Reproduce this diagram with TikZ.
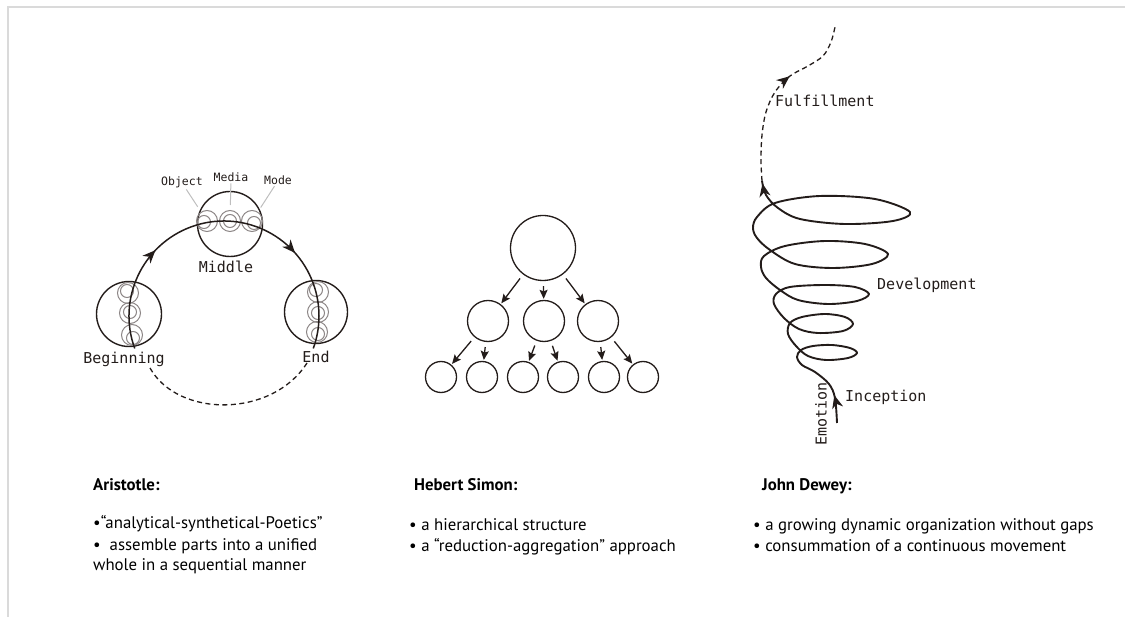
\documentclass[tikz,border=0pt]{standalone}
\usepackage{fontspec}
\setmainfont{PT Sans}
\newfontfamily\monof{DejaVu Sans Mono}
\usetikzlibrary{arrows.meta,decorations.markings}
\definecolor{ink}{RGB}{35,28,26}
\definecolor{ringgray}{RGB}{140,134,134}
\definecolor{leadgray}{RGB}{190,190,190}
\definecolor{framegray}{RGB}{218,218,218}
\tikzset{barb/.tip={Stealth[length=13pt,width=11pt,inset=4pt]}}
\begin{document}
\begin{tikzpicture}[x=1pt,y=-1pt,
  bigc/.style={circle,draw=ink,line width=1.4pt,inner sep=0pt,minimum size=#1},
  ring/.style={circle,draw=ringgray,line width=1pt,inner sep=0pt,minimum size=21pt},
  ringline/.style={draw=ringgray,line width=1pt},
  tc/.style={circle,draw=ink,line width=1.3pt,inner sep=0pt,minimum size=#1},
  tarr/.style={draw=ink,line width=1.3pt,-{Stealth[length=9pt,width=8pt,inset=1.5pt]},shorten <=5pt,shorten >=1pt},
  lead/.style={draw=leadgray,line width=1pt},
  mono/.style={font=\monof\fontsize{15}{18}\selectfont,text=ink,inner sep=0pt},
  monosmall/.style={font=\monof\fontsize{11.5}{14}\selectfont,text=ink,inner sep=0pt},
  txt/.style={font=\fontsize{16.8}{20}\selectfont,text=black,inner sep=0pt,anchor=base west},
  dashline/.style={draw=ink,line width=1.3pt,dash pattern=on 5pt off 3.5pt}
]
\useasboundingbox (0,0) rectangle (1125,617);
\draw[framegray,line width=2pt] (8,617) -- (8,7) -- (1125,7);

% ---------------- Aristotle ----------------
\node[bigc=65pt] (beg) at (129,314) {};
\node[bigc=63pt] (endc) at (316,312) {};
\node[bigc=65pt] (mid) at (230,224) {};
\foreach \n/\x/\y/\ix/\iy in {mo1/207/221/204/222, mo2/230/221/230/221, mo3/252/221/254/223,
  bo1/128/293/127/291, bo2/130/313/130/312, bo3/132/335/133/338,
  eo1/318/292/316/290, eo2/318/312/318/313, eo3/317/332/318/334}{
  \node[ring] (\n) at (\x,\y) {};
  \draw[ringline] (\ix,\iy) circle[radius=6.5];
}
\draw[draw=ink,line width=1.5pt,postaction={decorate},
  decoration={markings,mark=at position 0.29 with {\arrow[ink]{barb}},
                       mark=at position 0.72 with {\arrow[ink]{barb}}}]
  (224,316) ++(160:95) arc[start angle=160,end angle=380,radius=95];
\coordinate (ds) at (150,368);
\coordinate (de) at (307,363);
\draw[dashline] (ds) .. controls (178,418) and (272,418) .. (de);
\node[mono,anchor=base] (lbeg) at (124,364) {Beginning};
\node[mono,anchor=base] (lend) at (316,363) {End};
\node[mono,anchor=base] (lmid) at (226,273) {Middle};
\node[monosmall,anchor=base] (lobj) at (182,186) {Object};
\node[monosmall,anchor=base] (lmed) at (231,182) {Media};
\node[monosmall,anchor=base] (lmod) at (278,185) {Mode};
\draw[lead,shorten <=1pt,shorten >=6pt] (lobj) -- (mo1);
\draw[lead,shorten <=1pt,shorten >=5pt] (lmed) -- (mo2);
\draw[lead,shorten <=1pt,shorten >=5pt] (lmod) -- (mo3);

% ---------------- Simon ----------------
\node[tc=65pt] (top) at (543,248) {};
\node[tc=41pt] (m1) at (488,321) {};
\node[tc=41pt] (m2) at (544,321) {};
\node[tc=41pt] (m3) at (598,321) {};
\foreach \n/\x in {b1/441,b2/482,b3/523,b4/563,b5/604,b6/643}{
  \node[tc=31pt] (\n) at (\x,377) {};
}
\draw[tarr] (top) -- (m1);
\draw[tarr] (top) -- (m2);
\draw[tarr] (top) -- (m3);
\draw[tarr] (m1) -- (b1);
\draw[tarr] (m1) -- (b2);
\draw[tarr] (m2) -- (b3);
\draw[tarr] (m2) -- (b4);
\draw[tarr] (m3) -- (b5);
\draw[tarr] (m3) -- (b6);

% ---------------- Dewey ----------------
\draw[draw=ink,line width=1.9pt,line join=round,postaction={decorate},
  decoration={markings,mark=at position 28pt with {\arrow[ink]{barb}},
                       mark=at position 0.998 with {\arrow[ink]{barb}}}]
  plot[smooth,tension=0.55] coordinates {
  (837,423) (835,398) (829,384) (815,372) (802,365) (797,357) (801,350) (813,346)
  (832,345) (850,348) (857,353) (848,358) (826,360) (808,356) (796,346) (788,334)
  (790,323) (802,317) (825,314) (845,317) (853,324) (843,331) (818,333) (799,329)
  (784,318) (774,304) (776,294) (790,287) (825,285) (855,287) (869,294) (857,301)
  (828,304) (798,300) (780,290) (766,278) (761,267) (764,256) (785,246) (825,241)
  (865,244) (888,254) (872,264) (833,268) (795,264) (770,250) (757,238) (753,228)
  (757,217) (775,203) (820,196) (875,199) (910,212) (893,221) (845,224) (800,219)
  (778,208) (766,195) (762,181)};
\draw[dashline,postaction={decorate,solid},
  decoration={markings,mark=at position 113pt with {\arrow[ink]{barb}}}]
  plot[smooth,tension=0.55] coordinates {
  (762,181) (761,160) (762,135) (766,112) (775,92) (790,76) (808,66) (823,56) (831,42) (835,27)};
\node[mono,anchor=base west] (lful) at (775,107) {Fulfillment};
\node[mono,anchor=base west] (ldev) at (877,290) {Development};
\node[mono,anchor=base west] (linc) at (845,402) {Inception};
\node[mono,rotate=90] (lemo) at (821,414) {Emotion};

% ---------------- texts ----------------
\node[txt] (ta) at (93,490) {\bfseries Aristotle:};
\node[txt] (a1) at (93,529) {•“analytical-synthetical-Poetics”};
\node[txt] (a2) at (93,550) {•\ \ assemble parts into a unified};
\node[txt] (a3) at (93,570) {whole in a sequential manner};
\node[txt] (th) at (414,490) {\bfseries Hebert Simon:};
\node[txt] (h1) at (409,530) {• a hierarchical structure};
\node[txt] (h2) at (409,551) {• a “reduction-aggregation” approach};
\node[txt] (tj) at (762,490) {\bfseries John Dewey:};
\node[txt] (j1) at (753,530) {• a growing dynamic organization without gaps};
\node[txt] (j2) at (753,551) {• consummation of a continuous movement};
\end{tikzpicture}
\end{document}
